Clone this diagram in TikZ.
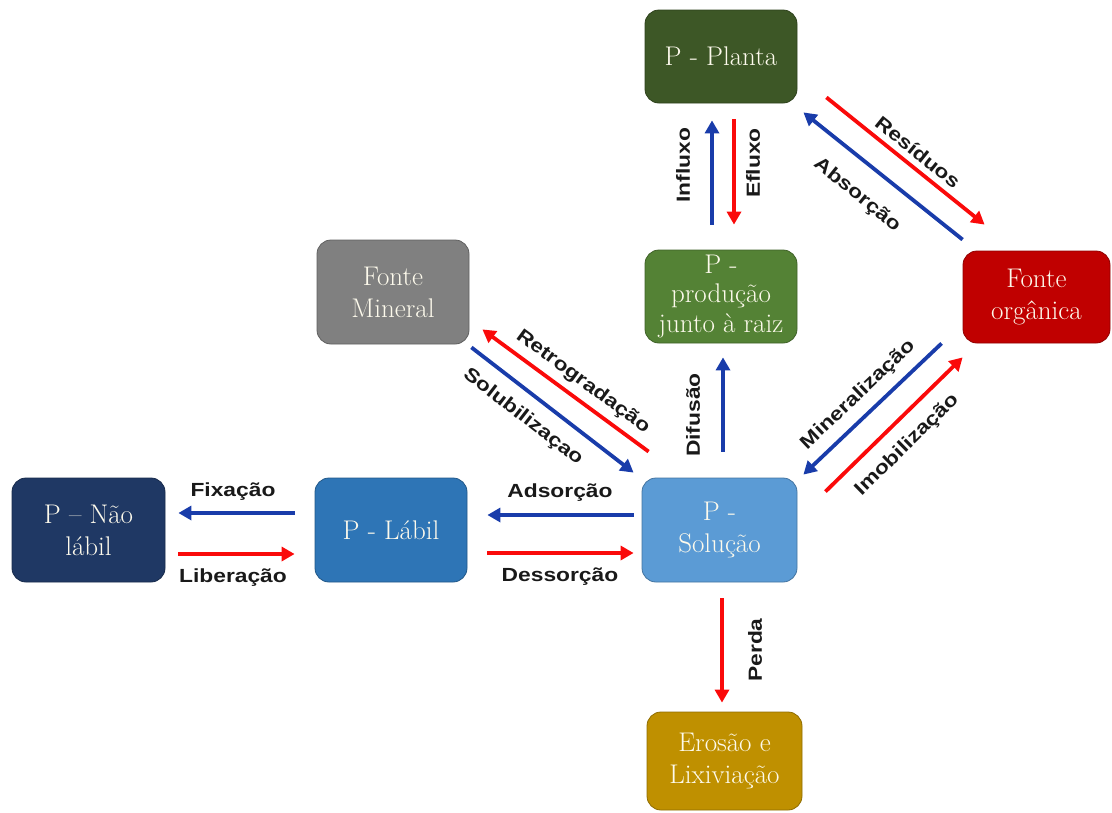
\documentclass[tikz,border=0pt]{standalone}
\usepackage{fontspec}
\usetikzlibrary{arrows.meta}
\newfontfamily\lblfont[FakeStretch=1.2,BoldFont={* Bold}]{Liberation Sans}
\definecolor{cplanta}{RGB}{61,87,38}
\definecolor{cprod}{RGB}{84,130,53}
\definecolor{corg}{RGB}{192,0,0}
\definecolor{cmin}{RGB}{128,128,128}
\definecolor{clabil}{RGB}{46,117,182}
\definecolor{csol}{RGB}{91,155,213}
\definecolor{cnao}{RGB}{31,56,100}
\definecolor{cero}{RGB}{191,144,0}
\definecolor{boxtext}{RGB}{253,250,236}
\definecolor{arrblue}{RGB}{25,60,170}
\definecolor{arrred}{RGB}{250,10,10}
\definecolor{lbltext}{RGB}{25,25,25}
\tikzset{
  box/.style={rounded corners=14pt, draw=#1!75!black, fill=#1, line width=0.8pt,
    text=boxtext, font=\fontsize{27}{32}\selectfont, align=center, inner sep=0pt},
  barrow/.style={draw=arrblue, line width=3.8pt, -{Triangle[length=13pt,width=14pt]}},
  rarrow/.style={draw=arrred, line width=3.8pt, -{Triangle[length=13pt,width=14pt]}},
  lbl/.style={font=\lblfont\bfseries\fontsize{19}{21}\selectfont, text=lbltext, inner sep=0pt},
}
\begin{document}
\begin{tikzpicture}[x=1pt,y=-1pt]
\useasboundingbox (0,0) rectangle (1112,812);
% boxes
\node[box=cplanta, minimum width=152pt, minimum height=93pt] (planta) at (721,56.5) {P - Planta};
\node[box=cprod, minimum width=152pt, minimum height=93pt, font=\fontsize{27}{29.5}\selectfont] (prod) at (721,296.5) {P -\\produção\\junto à raiz};
\node[box=corg, minimum width=147pt, minimum height=92pt] (org) at (1036.5,297) {Fonte\\orgânica};
\node[box=cmin, minimum width=152pt, minimum height=104pt] (mineral) at (393,292) {Fonte\\Mineral};
\node[box=clabil, minimum width=152pt, minimum height=104pt] (labil) at (391,530) {P - Lábil};
\node[box=csol, minimum width=155pt, minimum height=104pt] (sol) at (719.5,530) {P -\\Solução};
\node[box=cnao, minimum width=153pt, minimum height=104pt] (nao) at (88.5,530) {P -- Não\\lábil};
\node[box=cero, minimum width=155pt, minimum height=98pt] (ero) at (724.5,761) {Erosão e\\Lixiviação};
% arrows
\draw[barrow] ([shift={(-9,-25)}]prod.north) -- ([shift={(-9,17)}]planta.south);
\draw[rarrow] ([shift={(13,16)}]planta.south) -- ([shift={(13,-25)}]prod.north);
\draw[barrow] ([shift={(0,-11)}]org.north west) -- ([shift={(6,9)}]planta.south east);
\draw[rarrow] ([shift={(29,-6)}]planta.south east) -- ([shift={(22,-26)}]org.north west);
\draw[rarrow] ([shift={(7,-26)}]sol.north west) -- ([shift={(13,-15)}]mineral.south east);
\draw[barrow] ([shift={(2,3)}]mineral.south east) -- ([shift={(-8,-5)}]sol.north west);
\draw[barrow] ([shift={(3.5,-26)}]sol.north) -- ([shift={(2,14)}]prod.south);
\draw[barrow] ([shift={(-8,-15)}]sol.west) -- ([shift={(20,-15)}]labil.east);
\draw[rarrow] ([shift={(20,23)}]labil.east) -- ([shift={(-8,23)}]sol.west);
\draw[barrow] ([shift={(-20,-17)}]labil.west) -- ([shift={(13,-17)}]nao.east);
\draw[rarrow] ([shift={(13,24)}]nao.east) -- ([shift={(-20,24)}]labil.west);
\draw[barrow] ([shift={(-21,0)}]org.south west) -- ([shift={(6,-3)}]sol.north east);
\draw[rarrow] ([shift={(28,14)}]sol.north east) -- ([shift={(0,14)}]org.south west);
\draw[rarrow] ([shift={(2.5,16)}]sol.south) -- ([shift={(-2.5,-9)}]ero.north);
% labels
\node[lbl, rotate=90] (linf) at (683,165) {Influxo};
\node[lbl, rotate=90] (lefl) at (753,163) {Efluxo};
\node[lbl, rotate=-38.8] (lres) at (918,152) {Resíduos};
\node[lbl, rotate=-38.8] (labs) at (857,195) {Absorção};
\node[lbl, rotate=-36.4] (lret) at (583,382) {Retrogradação};
\node[lbl, rotate=-37.7] (lsolub) at (523,417) {Solubilizaçao};
\node[lbl, rotate=90] (ldif) at (693,415) {Difusão};
\node[lbl] (lads) at (560,493) {Adsorção};
\node[lbl] (ldes) at (560,577) {Dessorção};
\node[lbl] (lfix) at (233,492) {Fixação};
\node[lbl] (llib) at (233,578) {Liberação};
\node[lbl, rotate=43.5] (lmin) at (858,395) {Mineralização};
\node[lbl, rotate=44.4] (limo) at (907,445) {Imobilização};
\node[lbl, rotate=90] (lper) at (755,650) {Perda};
\end{tikzpicture}
\end{document}
